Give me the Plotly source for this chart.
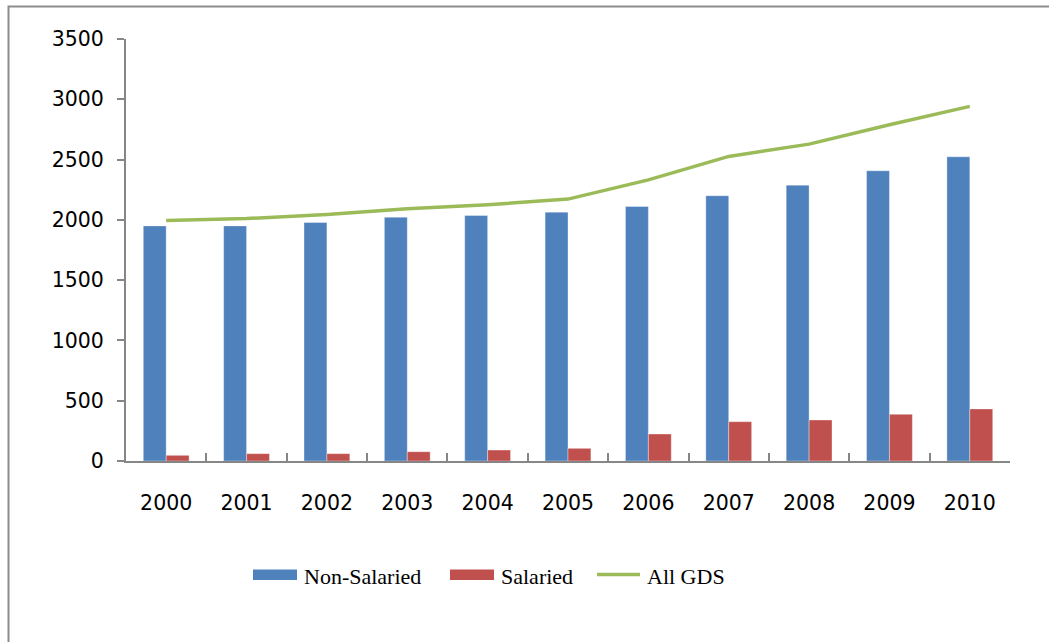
import plotly.graph_objects as go

years = ["2000", "2001", "2002", "2003", "2004", "2005", "2006", "2007", "2008", "2009", "2010"]
non_salaried = [1950, 1950, 1978, 2022, 2036, 2064, 2111, 2200, 2288, 2407, 2523]
salaried = [47, 61, 61, 77, 91, 105, 224, 326, 340, 387, 432]
all_gds = [1995, 2011, 2045, 2092, 2125, 2172, 2332, 2526, 2628, 2789, 2941]
y_ticks = [0, 500, 1000, 1500, 2000, 2500, 3000, 3500]

BLUE = "#4F81BD"
RED = "#C0504D"
GREEN = "#9BBB59"
AXIS = "#868686"

fig = go.Figure()
fig.add_trace(go.Bar(x=years, y=non_salaried, name="Non-Salaried",
                     marker=dict(color=BLUE, line=dict(color="rgba(255,255,255,0.35)", width=1)),
                     showlegend=False))
fig.add_trace(go.Bar(x=years, y=salaried, name="Salaried",
                     marker=dict(color=RED, line=dict(color="rgba(255,255,255,0.35)", width=1)),
                     showlegend=False))
fig.add_trace(go.Scatter(x=years, y=all_gds, name="All GDS", mode="lines",
                         line=dict(color=GREEN, width=3.5), showlegend=False))

W, H = 1049, 642
L, R, T, B = 126, 39, 39, 181
PW, PH = W - L - R, H - T - B


def px(xp):
    return (xp - L) / PW


def py(yp):
    return (H - B - yp) / PH


shapes = [
    # outer chart border
    dict(type="rect", xref="paper", yref="paper", x0=px(8.5), x1=1.3, y0=-0.8, y1=py(6.5),
         line=dict(color="#8c8c8c", width=2), fillcolor="rgba(0,0,0,0)", layer="below"),
    # legend swatches
    dict(type="rect", xref="paper", yref="paper", x0=px(253), x1=px(297), y0=py(580), y1=py(569.5),
         line=dict(width=0), fillcolor=BLUE),
    dict(type="rect", xref="paper", yref="paper", x0=px(450), x1=px(494), y0=py(580), y1=py(569.5),
         line=dict(width=0), fillcolor=RED),
    dict(type="line", xref="paper", yref="paper", x0=px(597), x1=px(640), y0=py(574.5), y1=py(574.5),
         line=dict(color=GREEN, width=3.5)),
]

legend_font = dict(family="Liberation Serif, Times New Roman, serif", size=22, color="#000000")
annotations = [
    dict(text="Non-Salaried", x=px(302), y=py(576), xref="paper", yref="paper",
         xanchor="left", yanchor="middle", showarrow=False, font=legend_font),
    dict(text="Salaried", x=px(499), y=py(576), xref="paper", yref="paper",
         xanchor="left", yanchor="middle", showarrow=False, font=legend_font),
    dict(text="All GDS", x=px(645), y=py(576), xref="paper", yref="paper",
         xanchor="left", yanchor="middle", showarrow=False, font=legend_font),
]

tick_font = dict(family="DejaVu Sans, Verdana, sans-serif", size=20.5, color="#000000")

fig.update_layout(
    width=W, height=H,
    margin=dict(l=L, r=R, t=T, b=B, pad=0),
    paper_bgcolor="white", plot_bgcolor="white",
    barmode="group", bargap=0.43, bargroupgap=0,
    showlegend=False,
    shapes=shapes, annotations=annotations,
    font=tick_font,
)
fig.update_xaxes(
    type="category", showgrid=False, zeroline=False,
    showline=True, linecolor=AXIS, linewidth=2,
    ticks="inside", tickson="boundaries", ticklen=8, tickcolor=AXIS, tickwidth=2,
    ticklabelstandoff=22,
    tickfont=tick_font,
)
fig.update_yaxes(
    range=[0, 3500], tickvals=y_ticks, showgrid=False, zeroline=False,
    showline=True, linecolor=AXIS, linewidth=2,
    ticks="outside", ticklen=7, tickcolor=AXIS, tickwidth=2,
    ticklabelstandoff=9,
    tickfont=tick_font,
)

fig.write_html("out.html",
               config={"displayModeBar": False},
               post_script="document.body.style.margin='0px';document.body.style.overflow='hidden';")
